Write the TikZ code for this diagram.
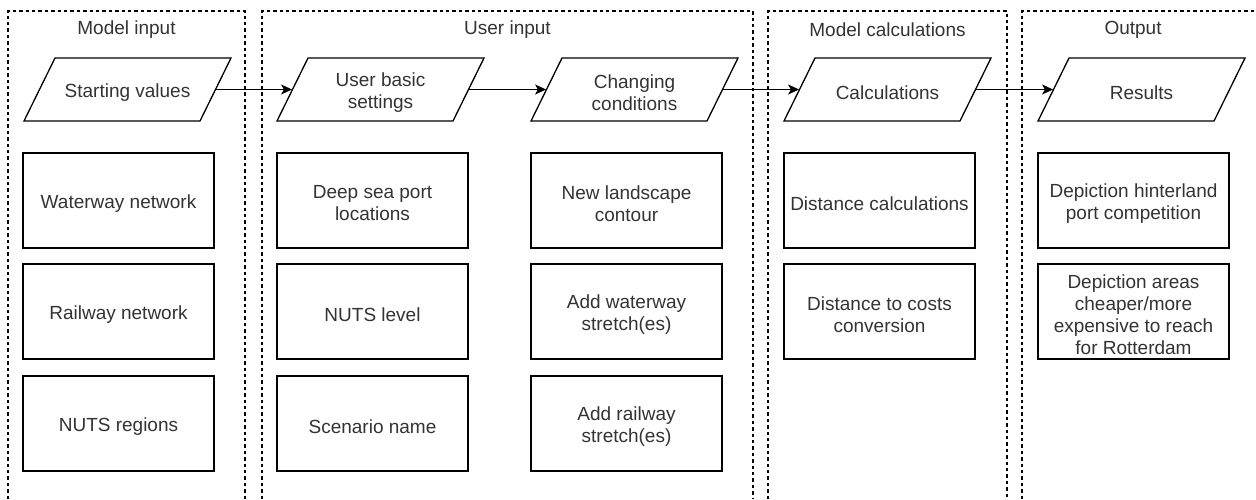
\documentclass[tikz,border=0pt]{standalone}
\usepackage{fontspec}
\setmainfont{Liberation Sans}
\usetikzlibrary{arrows.meta,calc}
\definecolor{txt}{HTML}{333333}
\tikzset{
  every node/.style={font=\fontsize{9.5pt}{11pt}\selectfont, text=txt},
  container/.style={draw=black, line width=0.55pt, dash pattern=on 1.7pt off 1.5pt},
  boxnode/.style={draw=black, line width=0.65pt, minimum width=95.5pt, minimum height=47.5pt, inner sep=0pt},
  boxtext/.style={inner sep=0pt, align=center},
  parain/.style={minimum width=88pt, minimum height=31.5pt, inner sep=0pt},
  paraline/.style={draw=black, line width=0.65pt, line join=miter},
  flow/.style={draw=black, line width=0.65pt, -{Stealth[length=5.5pt, width=5pt, inset=1.4pt]}},
  title/.style={inner sep=0pt}
}
\newcommand{\mypara}[3]{% name, x0, text
  \node[parain] (#1) at (#2+103.5, 89.5) {};
  \node[boxtext] (#1t) at ([yshift=-1.5pt]#1.center) {#3};
  \draw[paraline] (#2,121) -- (#2+31,58) -- (#2+207,58) -- (#2+176,121) -- cycle;
}
\newcommand{\mybox}[4]{% name, x, y, text
  \node[boxnode] (#1) at (#2,#3) {};
  \node[boxtext] (#1t) at ([yshift=-1.5pt]#1.center) {#4};
}
\begin{document}
\begin{tikzpicture}[x=0.5pt, y=-0.5pt]
\useasboundingbox (0,0) rectangle (1256,499);
% containers
\draw[container] (8,499) -- (8,11) -- (245,11) -- (245,499);
\draw[container] (262,499) -- (262,11) -- (753,11) -- (753,499);
\draw[container] (768,499) -- (768,11) -- (1007,11) -- (1007,499);
\draw[container] (1022,499) -- (1022,11) -- (1256,11);
% titles
\node[title] (t1) at (126.5,30) {Model input};
\node[title] (t2) at (507.5,30) {User input};
\node[title] (t3) at (887.5,30) {Model calculations};
\node[title] (t4) at (1133,30) {Output};
% parallelograms
\mypara{sv}{24}{Starting values}
\mypara{ub}{277}{User basic\\settings}
\mypara{cc}{531}{Changing\\conditions}
\mypara{ca}{784}{Calculations}
\mypara{re}{1038}{Results}
% arrows
\draw[flow] (sv.east) -- (ub.west);
\draw[flow] (ub.east) -- (cc.west);
\draw[flow] (cc.east) -- (ca.west);
\draw[flow] (ca.east) -- (re.west);
% col1
\mybox{b11}{118.5}{200.5}{Waterway network}
\mybox{b12}{118.5}{311.5}{Railway network}
\mybox{b13}{118.5}{423.5}{NUTS regions}
% col2
\mybox{b21}{372.5}{200.5}{Deep sea port\\locations}
\mybox{b22}{372.5}{311.5}{NUTS level}
\mybox{b23}{372.5}{423.5}{Scenario name}
% col3
\mybox{b31}{626.5}{200.5}{New landscape\\contour}
\mybox{b32}{626.5}{311.5}{Add waterway\\stretch(es)}
\mybox{b33}{626.5}{423.5}{Add railway\\stretch(es)}
% col4
\mybox{b41}{879.5}{200.5}{Distance calculations}
\mybox{b42}{879.5}{311.5}{Distance to costs\\conversion}
% col5
\mybox{b51}{1133.5}{200.5}{Depiction hinterland\\port competition}
\mybox{b52}{1133.5}{311.5}{Depiction areas\\cheaper/more\\expensive to reach\\for Rotterdam}
\end{tikzpicture}
\end{document}
